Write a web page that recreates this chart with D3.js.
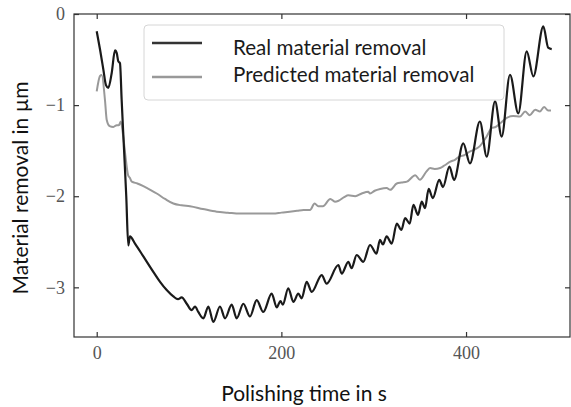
<!DOCTYPE html>
<html>
<head>
<meta charset="utf-8">
<script src="https://cdn.jsdelivr.net/npm/d3@7"></script>
<style>
	body { margin: 0; background: #fff; }
	svg { display: block; }
</style>
</head>
<body>
<div id="chart-area"></div>
<script>
// values (time in s, removal in µm)
const realTime = [0, 3.6, 7.2, 10, 12.6, 16.2, 19.8, 21.7, 23.4, 25.2, 27, 29.6, 32, 34.2, 36, 41.5, 50.5, 61.3, 68.6, 75.8,
	83, 88, 92, 97.5, 102.9, 106.5, 110, 115.5, 120.9, 126.3, 133.5, 139, 146.2, 151.6, 158.8, 166, 173.3, 180.4, 189.5, 195,
	199, 201.5, 207.5, 213, 218.3, 222, 227.4, 232.9, 243.7, 249, 261.7, 265.3, 272.5, 276, 281.6, 288.7, 296, 303, 306.8, 310,
	314, 319.5, 325, 330, 334, 339, 343, 348, 352, 355.6, 359.5, 364, 371, 375, 382, 387, 397, 404.3, 415, 422.4,
	431.4, 438.6, 447.6, 456.6, 465.7, 472.9, 483.7, 489, 492.8]
const realRemoval = [-0.19, -0.39, -0.61, -0.78, -0.81, -0.65, -0.40, -0.43, -0.52, -0.54, -0.94, -1.49, -2.0, -2.54, -2.44, -2.52, -2.66, -2.83, -2.94, -3.03,
	-3.10, -3.13, -3.11, -3.18, -3.25, -3.21, -3.27, -3.34, -3.21, -3.38, -3.21, -3.34, -3.19, -3.34, -3.18, -3.32, -3.14, -3.27, -3.07, -3.22,
	-3.15, -3.19, -3.01, -3.16, -3.07, -3.12, -2.94, -3.05, -2.865, -2.96, -2.755, -2.85, -2.72, -2.79, -2.645, -2.72, -2.535, -2.63, -2.48, -2.53,
	-2.44, -2.52, -2.30, -2.37, -2.24, -2.30, -2.095, -2.205, -2.06, -2.13, -1.92, -2.02, -1.82, -1.90, -1.675, -1.82, -1.42, -1.64, -1.18, -1.565,
	-0.96, -1.345, -0.667, -1.09, -0.41, -0.685, -0.136, -0.37, -0.385]

const predTime = [0, 3.6, 5.4, 9, 10.8, 14, 18, 21.7, 24, 26, 28.8, 31, 34, 36, 38, 44, 50.5, 58, 65, 74,
	83, 92, 101, 115, 130, 142, 155, 170, 180, 191, 200, 209, 217, 224, 231, 236, 240, 245, 253, 258,
	262, 268, 272.5, 280, 287, 294, 296, 301, 307, 314, 318, 325, 330, 336, 345, 350, 357, 361, 366, 372,
	377, 383, 388, 393.5, 398, 404, 409, 415, 422, 428, 432, 437, 444, 451, 458.5, 464, 469, 475, 480, 484.5,
	489, 492]
const predRemoval = [-0.85, -0.68, -0.67, -0.95, -1.16, -1.23, -1.24, -1.22, -1.22, -1.18, -1.35, -1.55, -1.77, -1.80, -1.84, -1.86, -1.89, -1.93, -1.97, -2.03,
	-2.08, -2.10, -2.11, -2.14, -2.17, -2.18, -2.19, -2.19, -2.19, -2.19, -2.18, -2.17, -2.16, -2.15, -2.15, -2.08, -2.11, -2.11, -2.03, -2.06,
	-2.05, -2.01, -1.99, -2.0, -1.97, -1.95, -1.97, -1.94, -1.92, -1.91, -1.93, -1.86, -1.85, -1.84, -1.77, -1.82, -1.73, -1.69, -1.70, -1.69,
	-1.66, -1.62, -1.60, -1.56, -1.55, -1.51, -1.49, -1.45, -1.35, -1.25, -1.24, -1.20, -1.14, -1.12, -1.125, -1.07, -1.11, -1.05, -1.07, -1.02,
	-1.06, -1.06]

const xTicks = [0, 200, 400]
const yTicks = [0, -1, -2, -3]
const seriesNames = ["Real material removal", "Predicted material removal"]

const W = 571
const H = 407
const PLOT = {LEFT: 74, RIGHT: 570, TOP: 14, BOTTOM: 337}
const SANS = "Lato, 'Open Sans', sans-serif"
const SERIF = "'Liberation Serif', 'DejaVu Serif', serif"

const svg = d3.select("#chart-area").append("svg")
	.attr("width", W)
	.attr("height", H)

const x = d3.scaleLinear()
	.domain([-24.6, 512.6])
	.range([PLOT.LEFT, PLOT.RIGHT])

const y = d3.scaleLinear()
	.domain([-3.545, 0])
	.range([PLOT.BOTTOM, PLOT.TOP])

// axes, ticks pointing inwards on all four sides
const xAxisCall = d3.axisBottom(x).tickValues(xTicks).tickFormat(d3.format("d"))
	.tickSizeInner(-5).tickSizeOuter(0).tickPadding(9)
const yAxisCall = d3.axisLeft(y).tickValues(yTicks).tickFormat(d3.format("d"))
	.tickSizeInner(-5).tickSizeOuter(0).tickPadding(9)

const styleAxis = g => {
	g.select(".domain").remove()
	g.selectAll("line").attr("stroke", "#333").attr("stroke-width", 1.2)
	g.selectAll("text")
		.attr("font-family", SERIF)
		.attr("font-size", "18px")
		.attr("fill", "#555")
}

svg.append("g")
	.attr("transform", `translate(0, ${PLOT.BOTTOM})`)
	.call(xAxisCall)
	.call(styleAxis)

svg.append("g")
	.attr("transform", `translate(${PLOT.LEFT}, 0)`)
	.call(yAxisCall)
	.call(styleAxis)

svg.append("g")
	.attr("transform", `translate(0, ${PLOT.TOP})`)
	.call(d3.axisTop(x).tickValues(xTicks).tickSizeInner(-5).tickSizeOuter(0).tickFormat(""))
	.call(styleAxis)

svg.append("g")
	.attr("transform", `translate(${PLOT.RIGHT}, 0)`)
	.call(d3.axisRight(y).tickValues(yTicks).tickSizeInner(-5).tickSizeOuter(0).tickFormat(""))
	.call(styleAxis)

svg.append("rect")
	.attr("x", PLOT.LEFT)
	.attr("y", PLOT.TOP)
	.attr("width", PLOT.RIGHT - PLOT.LEFT)
	.attr("height", PLOT.BOTTOM - PLOT.TOP)
	.attr("fill", "none")
	.attr("stroke", "#333")
	.attr("stroke-width", 1.2)

// lines
const line = d3.line()
	.x(d => x(d[0]))
	.y(d => y(d[1]))
	.curve(d3.curveMonotoneX)

svg.append("path")
	.datum(predTime.map((t, i) => [t, predRemoval[i]]))
	.attr("d", line)
	.attr("fill", "none")
	.attr("stroke", "#999")
	.attr("stroke-width", 2)

svg.append("path")
	.datum(realTime.map((t, i) => [t, realRemoval[i]]))
	.attr("d", line)
	.attr("fill", "none")
	.attr("stroke", "#1a1a1a")
	.attr("stroke-width", 2.2)
	.attr("stroke-linejoin", "round")

// legend
const legend = svg.append("g")

legend.append("rect")
	.attr("x", 144)
	.attr("y", 25)
	.attr("width", 360)
	.attr("height", 75)
	.attr("rx", 4)
	.attr("fill", "#fff")
	.attr("fill-opacity", 0.85)
	.attr("stroke", "#d6d6d6")

const legendRows = [
	{lineY: 43, textY: 55, color: "#333", width: 2.6},
	{lineY: 77, textY: 82, color: "#999", width: 2.4}
]

legendRows.forEach((r, i) => {
	legend.append("line")
		.attr("x1", 152)
		.attr("x2", 202)
		.attr("y1", r.lineY)
		.attr("y2", r.lineY)
		.attr("stroke", r.color)
		.attr("stroke-width", r.width)
	legend.append("text")
		.attr("x", 233)
		.attr("y", r.textY)
		.attr("font-family", SANS)
		.attr("font-size", "20.6px")
		.attr("fill", "#1a1a1a")
		.text(seriesNames[i])
})

// axis labels
svg.append("text")
	.attr("x", 304)
	.attr("y", 401)
	.attr("font-family", SANS)
	.attr("font-size", "21px")
	.attr("text-anchor", "middle")
	.attr("fill", "#111")
	.text("Polishing time in s")

svg.append("text")
	.attr("transform", "rotate(-90)")
	.attr("x", -188)
	.attr("y", 28)
	.attr("font-family", SANS)
	.attr("font-size", "21px")
	.attr("text-anchor", "middle")
	.attr("fill", "#111")
	.text("Material removal in µm")
</script>
</body>
</html>
